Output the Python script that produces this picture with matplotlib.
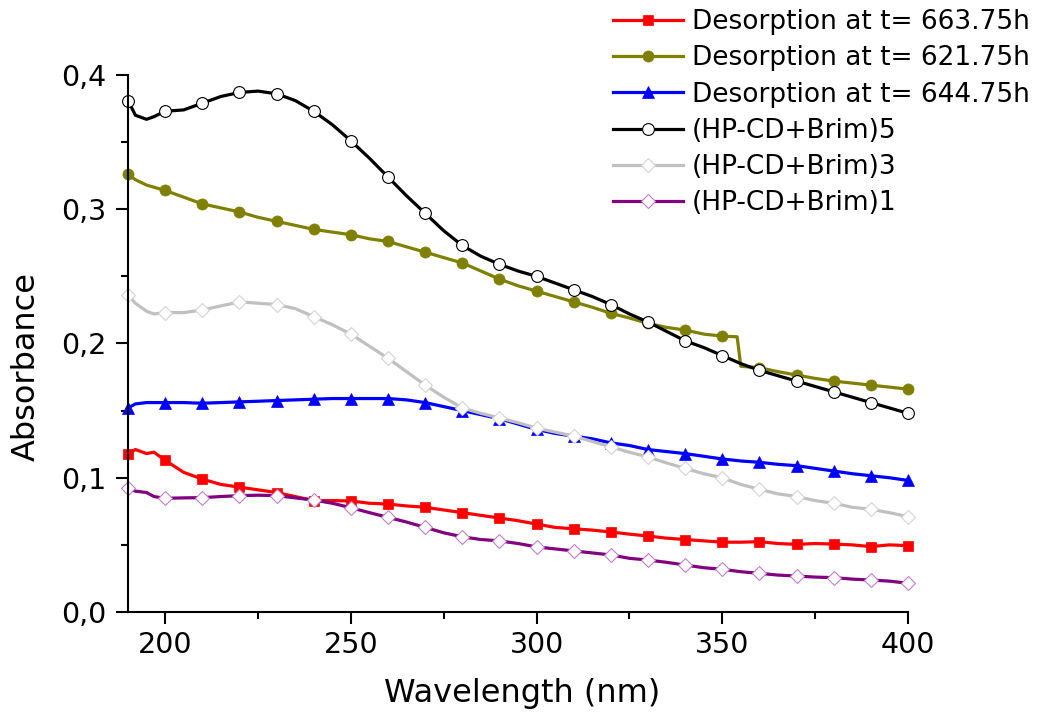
import numpy as np
import matplotlib
matplotlib.use("Agg")
import matplotlib.pyplot as plt
from matplotlib.ticker import MultipleLocator, FuncFormatter

plt.rcParams["font.family"] = ["DejaVu Sans"]

# Absorbance spectra (wavelength in nm)
wl_std = [190, 192, 195, 197, 200, 205, 210, 215, 220, 225, 230, 235, 240, 245, 250,
          255, 260, 265, 270, 275, 280, 285, 290, 295, 300, 305, 310, 315, 320, 325,
          330, 335, 340, 345, 350, 355, 360, 365, 370, 375, 380, 385, 390, 395, 400]

des_663 = [0.118, 0.121, 0.118, 0.119, 0.113, 0.104, 0.099, 0.095, 0.093, 0.091,
           0.089, 0.086, 0.083, 0.083, 0.0827, 0.081, 0.0804, 0.079, 0.078, 0.076,
           0.074, 0.072, 0.070, 0.068, 0.0655, 0.063, 0.062, 0.061, 0.0596, 0.058,
           0.0566, 0.055, 0.054, 0.053, 0.052, 0.052, 0.0524, 0.051, 0.0504, 0.051,
           0.0506, 0.050, 0.0487, 0.050, 0.0494]

wl_621 = [190, 192, 195, 200, 205, 210, 215, 220, 225, 230, 235, 240, 245, 250, 255,
          260, 265, 270, 275, 280, 285, 290, 295, 300, 305, 310, 315, 320, 325, 330,
          335, 340, 345, 350, 354, 355, 360, 365, 370, 375, 380, 385, 390, 395, 400]
des_621 = [0.326, 0.322, 0.318, 0.314, 0.309, 0.304, 0.301, 0.298, 0.294, 0.291,
           0.288, 0.285, 0.283, 0.281, 0.278, 0.276, 0.272, 0.268, 0.264, 0.260,
           0.254, 0.248, 0.243, 0.239, 0.235, 0.231, 0.227, 0.2225, 0.219, 0.215,
           0.212, 0.210, 0.207, 0.2055, 0.205, 0.183, 0.182, 0.179, 0.1765, 0.174,
           0.172, 0.1705, 0.169, 0.1675, 0.166]

des_644 = [0.152, 0.155, 0.156, 0.156, 0.156, 0.156, 0.1555, 0.156, 0.1565, 0.157,
           0.1575, 0.158, 0.1585, 0.159, 0.159, 0.159, 0.159, 0.158, 0.156, 0.153,
           0.150, 0.147, 0.144, 0.140, 0.136, 0.133, 0.131, 0.129, 0.126, 0.124,
           0.121, 0.1195, 0.118, 0.116, 0.114, 0.1125, 0.1115, 0.110, 0.109, 0.107,
           0.105, 0.103, 0.1015, 0.100, 0.098]

brim5 = [0.381, 0.370, 0.367, 0.369, 0.373, 0.374, 0.379, 0.384, 0.387, 0.388,
         0.386, 0.381, 0.373, 0.363, 0.351, 0.338, 0.324, 0.310, 0.297, 0.284,
         0.273, 0.265, 0.259, 0.254, 0.250, 0.245, 0.240, 0.235, 0.229, 0.222,
         0.216, 0.209, 0.202, 0.197, 0.191, 0.185, 0.180, 0.176, 0.172, 0.168,
         0.164, 0.160, 0.156, 0.152, 0.148]

brim3 = [0.236, 0.230, 0.224, 0.222, 0.223, 0.223, 0.225, 0.228, 0.231, 0.230,
         0.229, 0.226, 0.220, 0.214, 0.207, 0.198, 0.189, 0.179, 0.169, 0.160,
         0.152, 0.148, 0.1445, 0.141, 0.137, 0.134, 0.131, 0.127, 0.123, 0.119,
         0.1155, 0.111, 0.107, 0.103, 0.100, 0.095, 0.0914, 0.088, 0.086, 0.083,
         0.081, 0.078, 0.0765, 0.074, 0.071]

brim1 = [0.092, 0.090, 0.089, 0.086, 0.0847, 0.085, 0.0852, 0.086, 0.0867, 0.087,
         0.0867, 0.085, 0.0834, 0.081, 0.0777, 0.074, 0.0705, 0.067, 0.063, 0.059,
         0.056, 0.054, 0.053, 0.051, 0.0485, 0.047, 0.0455, 0.044, 0.0425, 0.040,
         0.0387, 0.037, 0.035, 0.033, 0.0318, 0.030, 0.0288, 0.0275, 0.0268, 0.026,
         0.0256, 0.0245, 0.0238, 0.023, 0.0214]

labels = ["Desorption at t= 663.75h", "Desorption at t= 621.75h",
          "Desorption at t= 644.75h", "(HP-CD+Brim)5", "(HP-CD+Brim)3",
          "(HP-CD+Brim)1"]

series = [
    (wl_std, des_663, dict(color="#ff0000", marker="s", ms=7.5, mfc="#ff0000", mec="#ff0000", mew=0.5)),
    (wl_621, des_621, dict(color="#808000", marker="o", ms=8, mfc="#808000", mec="#808000", mew=0.5)),
    (wl_std, des_644, dict(color="#0000ff", marker="^", ms=8.5, mfc="#0000ff", mec="#0000ff", mew=0.5)),
    (wl_std, brim5, dict(color="#000000", marker="o", ms=8.5, mfc="white", mec="#000000", mew=0.8)),
    (wl_std, brim3, dict(color="#c0c0c0", marker="D", ms=7, mfc="white", mec="#d4d4d4", mew=0.8)),
    (wl_std, brim1, dict(color="#800080", marker="D", ms=7, mfc="white", mec="#c080c8", mew=0.8)),
]

fig = plt.figure(figsize=(10.48, 7.2), dpi=100)
ax = fig.add_axes([128 / 1048, 108 / 720, 780 / 1048, 537 / 720])

handles = []
for (x, y, style), lab in zip(series, labels):
    x = np.asarray(x, dtype=float)
    every = np.isclose(np.mod(x, 10), 0)
    h, = ax.plot(x, y, lw=2.3, markevery=list(every), label=lab, clip_on=False, **style)
    handles.append(h)

ax.set_xlim(190, 400)
ax.set_ylim(0, 0.4)
ax.xaxis.set_major_locator(MultipleLocator(50))
ax.xaxis.set_minor_locator(MultipleLocator(25))
ax.yaxis.set_major_locator(MultipleLocator(0.1))
ax.yaxis.set_minor_locator(MultipleLocator(0.05))
ax.yaxis.set_major_formatter(FuncFormatter(lambda v, _: f"{v:.1f}".replace(".", ",")))

for side in ("top", "right"):
    ax.spines[side].set_visible(False)
for side in ("left", "bottom"):
    ax.spines[side].set_linewidth(1.5)

ax.tick_params(which="both", direction="out", width=1.5, labelsize=20.5)
ax.tick_params(which="major", length=8.5)
ax.tick_params(which="minor", length=5)
ax.tick_params(axis="x", pad=5)
ax.tick_params(axis="y", pad=7)

ax.set_xlabel("Wavelength (nm)", fontsize=23)
ax.set_ylabel("Absorbance", fontsize=23)
ax.xaxis.set_label_coords(0.505, -0.123)
ax.yaxis.set_label_coords(-0.110, 0.458)

fig.legend(handles=handles, labels=labels, loc="upper left",
           bbox_to_anchor=(613 / 1048, 1 - 9 / 720), frameon=False,
           fontsize=19, handlelength=2.65, handletextpad=0.35,
           labelspacing=0.39, borderpad=0, borderaxespad=0, numpoints=1)

fig.savefig("out.png", dpi=100)
